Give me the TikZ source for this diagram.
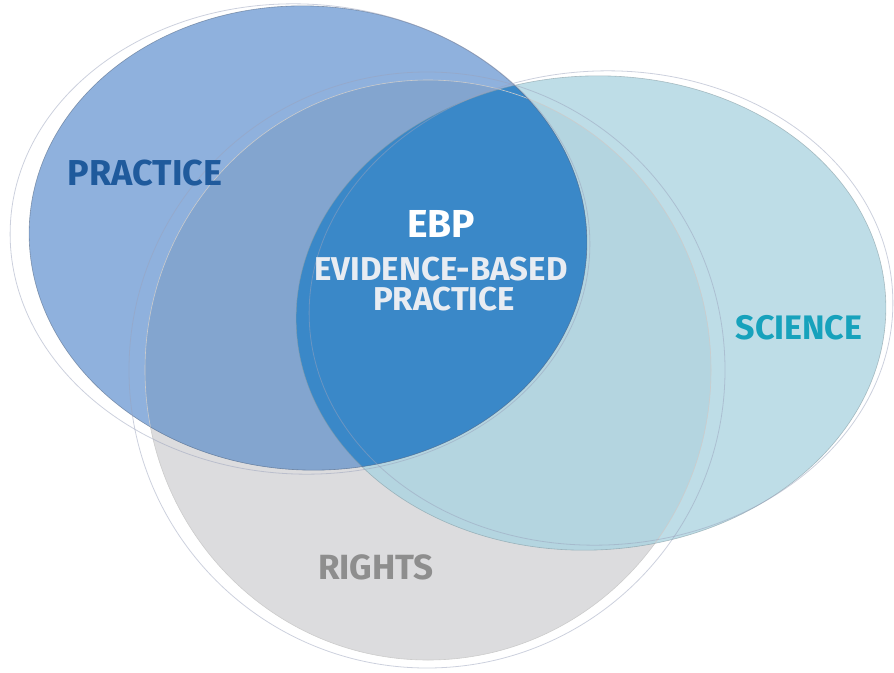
\documentclass[tikz,border=0pt]{standalone}
\usepackage{fontspec}
\setmainfont{Fira Sans}
\definecolor{practiceblue}{HTML}{8FB1DD}
\definecolor{pracrights}{HTML}{83A5CF}
\definecolor{ebpblue}{HTML}{3A88C8}
\definecolor{sciencecyan}{HTML}{BEDDE7}
\definecolor{scirights}{HTML}{B4D5E0}
\definecolor{rightsgray}{HTML}{DCDCDE}
\definecolor{practicetext}{HTML}{1F5A9C}
\definecolor{sciencetext}{HTML}{17A2BC}
\definecolor{rightstext}{HTML}{8E8E8E}
\definecolor{ebptext}{HTML}{E8ECF2}
\definecolor{ringgray}{HTML}{9AA2BC}
\newcommand\practiceshape{(0,0) ellipse [x radius=279,y radius=232]}
\newcommand\scienceshape{(0,0) ellipse [x radius=295,y radius=237]}
\newcommand\rightsshape{(0,0) ellipse [x radius=283,y radius=290]}
\begin{document}
\begin{tikzpicture}[x=1pt,y=-1pt,
  ring/.style={draw=ringgray,line width=0.8pt,draw opacity=0.5},
  lbl/.style={font=\bfseries\fontsize{#1}{#1}\selectfont,inner sep=0pt},
  practicepos/.style={shift={(308,238)},rotate=-3},
  sciencepos/.style={shift={(591,313)},rotate=3},
  rightspos/.style={shift={(428,370)}}]
\useasboundingbox (0,0) rectangle (894,672);
% rights
\fill[rightsgray,rightspos] \rightsshape;
% science
\fill[sciencecyan,sciencepos] \scienceshape;
\begin{scope}
\clip[sciencepos] \scienceshape;
\fill[scirights,rightspos] \rightsshape;
\end{scope}
% practice
\fill[practiceblue,practicepos] \practiceshape;
\begin{scope}
\clip[practicepos] \practiceshape;
\fill[pracrights,rightspos] \rightsshape;
\fill[ebpblue,sciencepos] \scienceshape;
\end{scope}
% edges
\draw[rightspos,draw=black!20,line width=0.6pt] \rightsshape;
\draw[sciencepos,draw=sciencecyan!70!black,line width=0.6pt,draw opacity=0.6] \scienceshape;
\draw[practicepos,draw=practiceblue!60!black,line width=0.6pt,draw opacity=0.6] \practiceshape;
% rings
\draw[ring,shift={(300,239)},rotate=-3] (0,0) ellipse [x radius=290,y radius=235];
\draw[ring,shift={(601,308)},rotate=3] (0,0) ellipse [x radius=292,y radius=237];
\draw[ring] (427,370) ellipse [x radius=298,y radius=298];
% labels
\node[lbl=36,text=practicetext] (practice) at (145,173) {PRACTICE};
\node[lbl=39,text=white] (ebp) at (441,224) {EBP};
\node[lbl=33,text=ebptext] (ebpline1) at (441,269) {EVIDENCE-BASED};
\node[lbl=33,text=ebptext] (ebpline2) at (444,299) {PRACTICE};
\node[lbl=34,text=sciencetext] (science) at (799,328) {SCIENCE};
\node[lbl=35,text=rightstext] (rights) at (376,567) {RIGHTS};
\end{tikzpicture}
\end{document}
